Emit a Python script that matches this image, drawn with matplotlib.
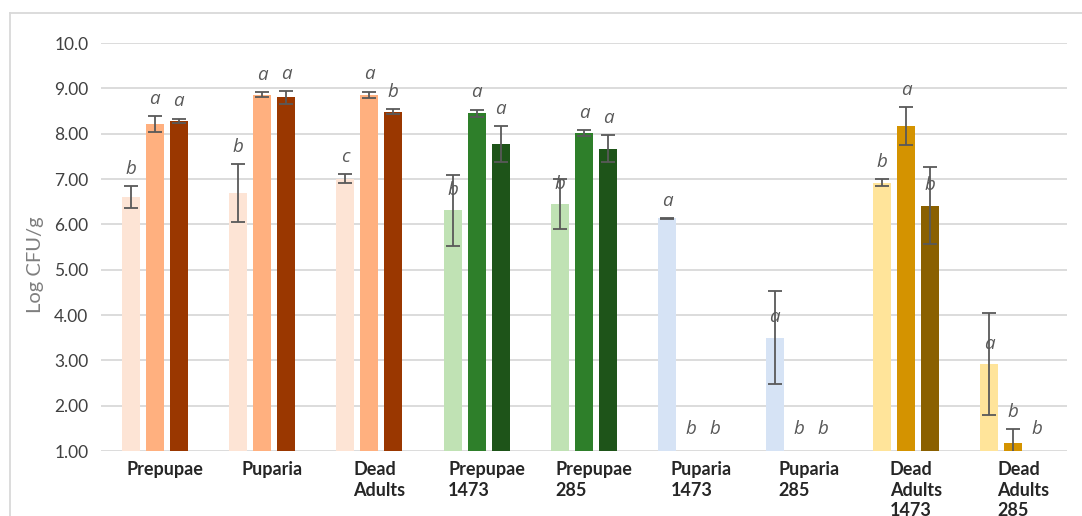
import matplotlib
matplotlib.use("Agg")
import matplotlib.pyplot as plt
from matplotlib.lines import Line2D
import numpy as np

# groups along the x axis
categories = ["Prepupae", "Puparia", "Dead\nAdults", "Prepupae\n1473", "Prepupae\n285",
              "Puparia\n1473", "Puparia\n285", "Dead\nAdults\n1473", "Dead\nAdults\n285"]

# three bars per group (log CFU/g), their error and the letters above them
bar1 = [6.61, 6.69, 7.01, 6.31, 6.45, 6.13, 3.50, 6.92, 2.92]
bar2 = [8.21, 8.86, 8.86, 8.45, 8.01, 0.00, 0.00, 8.17, 1.18]
bar3 = [8.28, 8.80, 8.48, 7.77, 7.67, 0.00, 0.00, 6.41, 0.00]
err1 = [0.24, 0.64, 0.10, 0.78, 0.55, 0.01, 1.03, 0.07, 1.13]
err2 = [0.17, 0.05, 0.07, 0.08, 0.07, 0.00, 0.00, 0.42, 0.30]
err3 = [0.05, 0.14, 0.055, 0.39, 0.29, 0.00, 0.00, 0.85, 0.00]
letters1 = ["b", "b", "c", "b", "b", "a", "a", "b", "a"]
letters2 = ["a", "a", "a", "a", "a", "b", "b", "a", "b"]
letters3 = ["a", "a", "b", "a", "a", "b", "b", "b", "b"]

yticks = [1, 2, 3, 4, 5, 6, 7, 8, 9, 10]
ytick_labels = ["1.00", "2.00", "3.00", "4.00", "5.00", "6.00", "7.00", "8.00", "9.00", "10.0"]

# colours per group: light / mid / dark shade
colors = [
    ["#FDE4D5", "#FFB07F", "#9A3700"],
    ["#FDE4D5", "#FFB07F", "#9A3700"],
    ["#FDE4D5", "#FFB07F", "#9A3700"],
    ["#C0E2B4", "#2E7F2A", "#1E5419"],
    ["#C0E2B4", "#2E7F2A", "#1E5419"],
    ["#D6E3F5", "#D6E3F5", "#D6E3F5"],
    ["#D6E3F5", "#D6E3F5", "#D6E3F5"],
    ["#FFE49A", "#D49300", "#8A6000"],
    ["#FFE49A", "#D49300", "#8A6000"],
]

# letters sitting just above the bar top instead of above the error bar
near_bar = [(3, 0), (4, 0), (6, 0), (7, 2), (8, 0)]

W, H = 1082, 516
fig = plt.figure(figsize=(W / 100, H / 100), dpi=100)
ax = fig.add_axes([101 / W, 1 - 451 / H, (1067 - 101) / W, (451 - 43) / H])

x = np.arange(len(categories))
offsets = [-0.223, 0.0, 0.223]
width = 0.168
series = [(bar1, err1, letters1), (bar2, err2, letters2), (bar3, err3, letters3)]

for j, (vals, errs, lets) in enumerate(series):
    xs = x + offsets[j]
    ax.bar(xs, vals, width, color=[c[j] for c in colors], zorder=2)
    for i in range(len(categories)):
        if vals[i] > 0:
            ax.errorbar(xs[i], vals[i], yerr=errs[i], fmt="none", ecolor="#595959",
                        elinewidth=1.3, capsize=4.7, capthick=1.3, zorder=3)
        if (i, j) in near_bar:
            ly = vals[i] + 0.45
        else:
            ly = max(vals[i] + errs[i], 1.1) + 0.38
        ax.text(xs[i], ly, lets[i], ha="center", va="center", style="italic",
                fontsize=13.5, color="#595959", family="Open Sans", zorder=4)

ax.set_xlim(-0.5, len(categories) - 0.5)
ax.set_ylim(1, 10)
ax.set_yticks(yticks)
ax.set_yticklabels(ytick_labels)
ax.set_xticks([])
ax.grid(axis="y", color="#D9D9D9", linewidth=1.3, zorder=0)
ax.tick_params(axis="y", length=0, pad=9, labelsize=12.5, labelcolor="#404040")
for lbl in ax.get_yticklabels():
    lbl.set_family("Lato")
for s in ax.spines.values():
    s.set_visible(False)

# category labels under the axis, left aligned inside their block
for i, cat in enumerate(categories):
    ax.annotate(cat, xy=(x[i], 1), xycoords="data", xytext=(10, -10),
                textcoords="offset pixels", ha="center", va="top",
                multialignment="left", fontsize=13, fontweight="bold",
                family="Lato", color="#262626", linespacing=1.25,
                annotation_clip=False)

fig.text(35 / W, 1 - 265 / H, "Log CFU/g", rotation=90, ha="center", va="center",
         fontsize=14.5, color="#7F7F7F", family="Lato")

# outer chart border
fig.add_artist(Line2D([10 / W, 1], [1 - 13 / H, 1 - 13 / H], color="#D9D9D9", lw=1.3))
fig.add_artist(Line2D([10 / W, 10 / W], [0, 1 - 13 / H], color="#D9D9D9", lw=1.3))

fig.savefig("out.png", dpi=100)
